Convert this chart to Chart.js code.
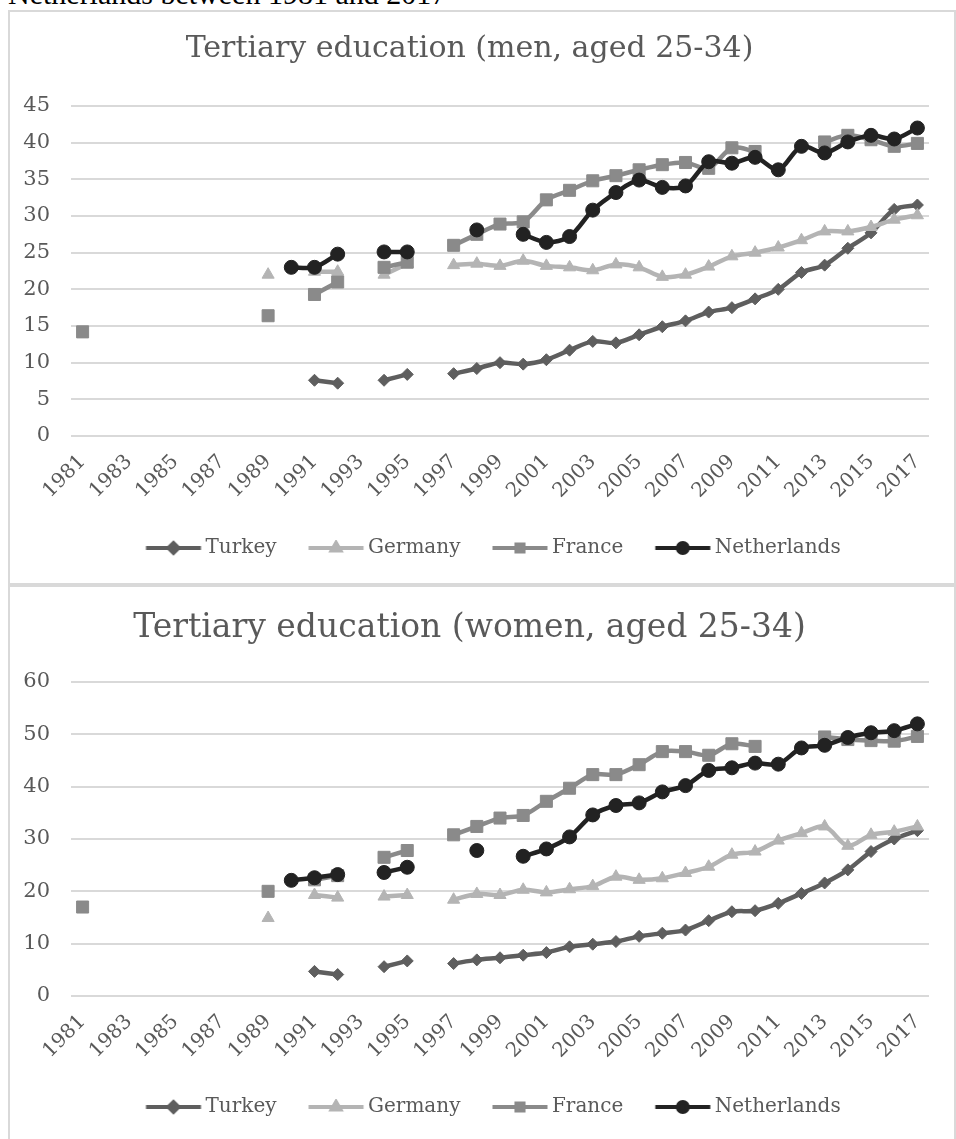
<!DOCTYPE html>
<html>
<head>
<meta charset="utf-8">
<script src="https://cdn.jsdelivr.net/npm/chart.js@4.4.0/dist/chart.umd.min.js"></script>
<style>
  body { margin: 0; background: #fff; width: 956px; height: 1139px; overflow: hidden; position: relative; }
  .caption { position: absolute; left: 8px; top: -21px; font: 30px/30px 'Liberation Serif', serif; color: #000; white-space: nowrap; }
  .frame { position: absolute; left: 8px; width: 944px; border: 2px solid #d9d9d9; background: #fff; }
  #frameMen { top: 10px; height: 571px; }
  #frameWomen { top: 585px; height: 560px; }
  canvas { display: block; }
</style>
</head>
<body>
<div class="caption">Netherlands between 1981 and 2017</div>
<div class="frame" id="frameMen"><canvas id="menChart" width="944" height="571"></canvas></div>
<div class="frame" id="frameWomen"><canvas id="womenChart" width="944" height="560"></canvas></div>

<script>
// Jaar-categorieen (x-as)
const years = [1981, 1982, 1983, 1984, 1985, 1986, 1987, 1988, 1989, 1990,
               1991, 1992, 1993, 1994, 1995, 1996, 1997, 1998, 1999, 2000,
               2001, 2002, 2003, 2004, 2005, 2006, 2007, 2008, 2009, 2010,
               2011, 2012, 2013, 2014, 2015, 2016, 2017];

const countries = ['Turkey', 'Germany', 'France', 'Netherlands'];

// Mannen 25-34 (%)
const menTurkey = [null, null, null, null, null, null, null, null, null, null,
                   7.6, 7.2, null, 7.6, 8.4, null, 8.5, 9.2, 10.0, 9.8,
                   10.4, 11.7, 12.9, 12.7, 13.8, 14.9, 15.7, 16.9, 17.5, 18.7,
                   20.0, 22.3, 23.3, 25.6, 27.7, 30.9, 31.5];
const menGermany = [null, null, null, null, null, null, null, null, 22.0, null,
                    22.4, 22.4, null, 22.0, 23.5, null, 23.3, 23.5, 23.2, 23.9,
                    23.2, 23.0, 22.6, 23.4, 23.0, 21.7, 22.0, 23.1, 24.5, 25.0,
                    25.7, 26.7, 27.9, 27.9, 28.5, 29.5, 30.1];
const menFrance = [14.2, null, null, null, null, null, null, null, 16.4, null,
                   19.3, 21.0, null, 23.0, 23.7, null, 26.0, 27.5, 28.9, 29.2,
                   32.2, 33.5, 34.8, 35.5, 36.3, 37.0, 37.3, 36.5, 39.3, 38.8,
                   null, null, 40.1, 41.0, 40.4, 39.5, 39.9];
const menNetherlands = [null, null, null, null, null, null, null, null, null, 23.0,
                        23.0, 24.8, null, 25.1, 25.1, null, null, 28.1, null, 27.5,
                        26.4, 27.2, 30.8, 33.2, 34.9, 33.9, 34.1, 37.4, 37.2, 38.0,
                        36.3, 39.5, 38.6, 40.1, 41.0, 40.5, 42.0];

// Vrouwen 25-34 (%)
const womenTurkey = [null, null, null, null, null, null, null, null, null, null,
                     4.7, 4.1, null, 5.6, 6.7, null, 6.2, 6.9, 7.3, 7.8,
                     8.3, 9.4, 9.9, 10.4, 11.4, 12.0, 12.6, 14.4, 16.1, 16.3,
                     17.7, 19.6, 21.6, 24.1, 27.6, 30.0, 31.6];
const womenGermany = [null, null, null, null, null, null, null, null, 14.9, null,
                      19.3, 18.8, null, 19.0, 19.3, null, 18.4, 19.5, 19.3, 20.3,
                      19.8, 20.4, 21.0, 22.8, 22.2, 22.5, 23.5, 24.7, 27.0, 27.6,
                      29.7, 31.1, 32.4, 28.7, 30.8, 31.4, 32.4];
const womenFrance = [17.0, null, null, null, null, null, null, null, 20.0, null,
                     22.2, 23.0, null, 26.5, 27.8, null, 30.8, 32.4, 34.0, 34.5,
                     37.2, 39.7, 42.3, 42.3, 44.2, 46.7, 46.7, 46.0, 48.2, 47.7,
                     null, null, 49.5, 49.0, 48.8, 48.7, 49.6];
const womenNetherlands = [null, null, null, null, null, null, null, null, null, 22.1,
                          22.6, 23.2, null, 23.6, 24.6, null, null, 27.8, null, 26.7,
                          28.1, 30.4, 34.6, 36.4, 36.9, 39.0, 40.2, 43.1, 43.6, 44.5,
                          44.3, 47.4, 47.9, 49.4, 50.3, 50.7, 52.0];

// Stijl per land
const FONT = "'DejaVu Serif', serif";
const TEXT_COLOR = '#595959';
const seriesStyle = [
    { color: '#5e5e5e', pointStyle: 'rectRot', radius: 6 },
    { color: '#b4b4b4', pointStyle: 'triangle', radius: 7 },
    { color: '#8a8a8a', pointStyle: 'rect', radius: 8.5 },
    { color: '#222222', pointStyle: 'circle', radius: 7 }
];

// Legenda-symbool: lijn (55px) met marker in het midden
function legendSwatch(style) {
    const c = document.createElement('canvas');
    c.width = 64;
    c.height = 16;
    const g = c.getContext('2d');
    g.strokeStyle = style.color;
    g.fillStyle = style.color;
    g.lineWidth = 4;
    g.beginPath();
    g.moveTo(4.5, 8);
    g.lineTo(59.5, 8);
    g.stroke();
    Chart.helpers.drawPoint(g, { pointStyle: style.pointStyle, radius: 5, rotation: 0, borderWidth: 1 }, 32, 8);
    return c;
}

// Legenda iets naar rechts, zodat de eerste lijn begint waar Excel hem zet
const legendShift = {
    id: 'legendShift',
    afterLayout(chart, args, opts) {
        const lg = chart.legend;
        if (!lg || !lg.lineWidths) return;
        const pad = lg.options.labels.padding;
        const start = (lg.left + pad + lg.right - lg.lineWidths[0]) / 2;
        const dx = opts.startX - start;
        lg.left += dx;
        lg.right += dx;
    }
};

function buildChart(canvasId, titleText, titleSize, yMax, yStep, seriesValues, box) {
    const ctx = document.getElementById(canvasId).getContext('2d');
    const datasets = seriesValues.map((values, i) => ({
        label: countries[i],
        data: values,
        borderColor: seriesStyle[i].color,
        backgroundColor: seriesStyle[i].color,
        borderWidth: 4.5,
        pointStyle: seriesStyle[i].pointStyle,
        pointRadius: seriesStyle[i].radius,
        pointBorderWidth: 1,
        tension: 0.3,
        spanGaps: false,
        order: 4 - i   // Netherlands bovenop
    }));

    return new Chart(ctx, {
        type: 'line',
        data: { labels: years, datasets: datasets },
        plugins: [legendShift],
        options: {
            responsive: false,
            animation: false,
            layout: { padding: { left: 0, right: 25, top: 0, bottom: box.bottomPad } },
            plugins: {
                legendShift: { startX: 141.5 },
                title: {
                    display: true,
                    text: titleText,
                    color: TEXT_COLOR,
                    font: { family: FONT, size: titleSize, weight: 'normal' },
                    padding: { top: box.titleTop, bottom: box.titleBottom }
                },
                legend: {
                    position: 'bottom',
                    labels: {
                        usePointStyle: true,
                        pointStyleWidth: 44,
                        padding: 37.5,
                        color: TEXT_COLOR,
                        font: { family: FONT, size: 20 },
                        generateLabels: chart => chart.data.datasets.map((ds, i) => ({
                            text: ds.label,
                            pointStyle: legendSwatch(seriesStyle[i]),
                            fillStyle: ds.borderColor,
                            strokeStyle: ds.borderColor,
                            fontColor: TEXT_COLOR,
                            lineWidth: 0,
                            hidden: false,
                            datasetIndex: i
                        }))
                    }
                },
                tooltip: { enabled: false }
            },
            scales: {
                x: {
                    offset: true,
                    grid: { display: false },
                    border: { display: false },
                    ticks: {
                        autoSkip: false,
                        minRotation: 45,
                        maxRotation: 45,
                        padding: 6,
                        color: TEXT_COLOR,
                        font: { family: FONT, size: 20 },
                        // alleen oneven jaren tonen
                        callback: (value, index) => index % 2 === 0 ? String(years[index]) : null
                    },
                    afterFit: scale => { scale.height = box.xAxisHeight; }
                },
                y: {
                    min: 0,
                    max: yMax,
                    ticks: { stepSize: yStep, padding: 21, color: TEXT_COLOR, font: { family: FONT, size: 21 } },
                    grid: { color: '#d9d9d9', lineWidth: 2, drawTicks: false },
                    border: { display: false },
                    afterFit: scale => { scale.width = 61; }
                }
            }
        }
    });
}

buildChart('menChart', 'Tertiary education (men, aged 25-34)', 30, 45, 5,
    [menTurkey, menGermany, menFrance, menNetherlands],
    { titleTop: 19, titleBottom: 39, xAxisHeight: 64.5, bottomPad: 15 });

buildChart('womenChart', 'Tertiary education (women, aged 25-34)', 33, 60, 10,
    [womenTurkey, womenGermany, womenFrance, womenNetherlands],
    { titleTop: 21.2, titleBottom: 34.2, xAxisHeight: 63.5, bottomPad: 20 });
</script>
</body>
</html>
